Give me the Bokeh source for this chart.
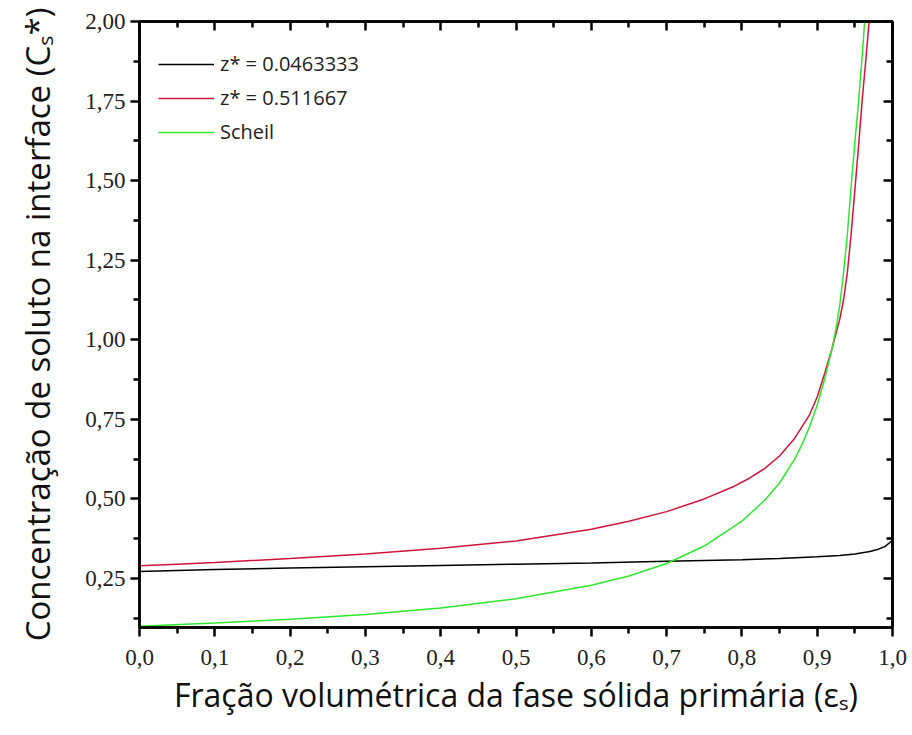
from bokeh.plotting import figure
from bokeh.models import (LinearAxis, FixedTicker, CustomJSTickFormatter, Range1d,
                          Legend, LegendItem)
from bokeh.embed import file_html
from bokeh.resources import INLINE

# ---- data ----
x_black = [0.0, 0.05, 0.1, 0.2, 0.3, 0.4, 0.5, 0.6, 0.7, 0.8, 0.85, 0.9, 0.93, 0.95, 0.97, 0.98, 0.99, 1.0]
y_black = [0.272, 0.275, 0.278, 0.283, 0.287, 0.291, 0.295, 0.299, 0.304, 0.309, 0.313, 0.318, 0.322, 0.327, 0.335, 0.341, 0.350, 0.370]

x_red = [0.0, 0.0, 0.05, 0.1, 0.2, 0.3, 0.4, 0.5, 0.6, 0.65, 0.7, 0.75, 0.79, 0.81, 0.83, 0.85, 0.87, 0.89, 0.9,
         0.91, 0.92, 0.925, 0.93, 0.935, 0.94, 0.945, 0.95, 0.955, 0.96, 0.965, 0.97]
y_red = [0.10, 0.29, 0.295, 0.30, 0.313, 0.327, 0.345, 0.368, 0.405, 0.43, 0.46, 0.50, 0.54, 0.565, 0.595, 0.635, 0.69, 0.765, 0.82,
         0.895, 0.975, 1.02, 1.065, 1.125, 1.21, 1.33, 1.47, 1.61, 1.76, 1.89, 2.03]

x_green = [0.0, 0.1, 0.2, 0.3, 0.4, 0.5, 0.6, 0.65, 0.7, 0.75, 0.8, 0.83, 0.85, 0.87, 0.88, 0.89, 0.9, 0.91,
           0.92, 0.925, 0.93, 0.935, 0.94, 0.945, 0.95, 0.955, 0.96, 0.963, 0.965]
y_green = [0.100, 0.110, 0.122, 0.137, 0.157, 0.186, 0.229, 0.258, 0.297, 0.352, 0.43, 0.495, 0.55, 0.625, 0.672, 0.728, 0.795, 0.877,
           0.975, 1.035, 1.11, 1.21, 1.33, 1.48, 1.62, 1.75, 1.90, 2.0, 2.07]

labels = ["z* = 0.0463333", "z* = 0.511667", "Scheil"]
colors = ["#000000", "#d0143a", "#2ee62e"]

x_ticks = [0.0, 0.1, 0.2, 0.3, 0.4, 0.5, 0.6, 0.7, 0.8, 0.9, 1.0]
x_minor = [0.05, 0.15, 0.25, 0.35, 0.45, 0.55, 0.65, 0.75, 0.85, 0.95]
y_ticks = [0.25, 0.5, 0.75, 1.0, 1.25, 1.5, 1.75, 2.0]
y_minor = [0.125, 0.375, 0.625, 0.875, 1.125, 1.375, 1.625, 1.875]

x_title = "Fração volumétrica da fase sólida primária (εₛ)"
y_title = "Concentração de soluto na interface (Cₛ*)"

TICK_FONT = "Liberation Serif"
TITLE_FONT = "Open Sans"

p = figure(width=912, height=735, output_backend="svg", toolbar_location=None,
           x_range=Range1d(0.0, 1.0), y_range=Range1d(0.096, 2.0),
           min_border_left=139, min_border_right=20, min_border_top=21, min_border_bottom=108)
p.grid.visible = False
p.background_fill_color = "white"
p.border_fill_color = "white"
p.outline_line_color = "black"
p.outline_line_width = 2.5

r1 = p.line(x_black, y_black, line_color=colors[0], line_width=1.5)
r2 = p.line(x_red, y_red, line_color=colors[1], line_width=1.5)
r3 = p.line(x_green, y_green, line_color=colors[2], line_width=1.5)

xa = p.xaxis[0]
xa.ticker = FixedTicker(ticks=x_ticks, minor_ticks=x_minor)
xa.formatter = CustomJSTickFormatter(code="return tick.toFixed(1).replace('.', ',');")
ya = p.yaxis[0]
ya.ticker = FixedTicker(ticks=y_ticks, minor_ticks=y_minor)
ya.formatter = CustomJSTickFormatter(code="return tick.toFixed(2).replace('.', ',');")

for ax in (xa, ya):
    ax.axis_line_width = 2.5
    ax.major_tick_line_width = 2.5
    ax.minor_tick_line_width = 2.5
    ax.major_tick_out = 9
    ax.major_tick_in = 0
    ax.minor_tick_out = 6
    ax.minor_tick_in = 0
    ax.major_label_text_font = TICK_FONT
    ax.major_label_text_font_size = "23px"
    ax.major_label_text_color = "#222222"
    ax.axis_label_text_font = TITLE_FONT
    ax.axis_label_text_font_style = "normal"
    ax.axis_label_text_color = "#111111"

xa.axis_label = x_title
xa.axis_label_text_font_size = "32px"
xa.major_label_standoff = 13
xa.axis_label_standoff = 5
ya.axis_label = y_title
ya.axis_label_text_font_size = "33px"
ya.major_label_standoff = 5
ya.axis_label_standoff = 22

# mirrored axes with inward ticks, no labels
top = LinearAxis(ticker=FixedTicker(ticks=x_ticks, minor_ticks=x_minor),
                 formatter=CustomJSTickFormatter(code="return '';"))
right = LinearAxis(ticker=FixedTicker(ticks=y_ticks, minor_ticks=y_minor),
                   formatter=CustomJSTickFormatter(code="return '';"))
for ax in (top, right):
    ax.axis_line_width = 2.5
    ax.major_tick_line_width = 2.5
    ax.minor_tick_line_width = 2.5
    ax.major_tick_in = 9
    ax.major_tick_out = 0
    ax.minor_tick_in = 6
    ax.minor_tick_out = 0
    ax.major_label_standoff = 0
p.add_layout(top, "above")
p.add_layout(right, "right")

legend = Legend(items=[LegendItem(label=labels[0], renderers=[r1]),
                       LegendItem(label=labels[1], renderers=[r2]),
                       LegendItem(label=labels[2], renderers=[r3])],
                location=(19, 482))
legend.border_line_color = None
legend.background_fill_alpha = 0
legend.label_text_font = TITLE_FONT
legend.label_text_font_size = "20px"
legend.label_text_color = "#222222"
legend.glyph_width = 56
legend.glyph_height = 26
legend.label_height = 26
legend.spacing = 7
legend.margin = 0
legend.padding = 0
legend.label_standoff = 6
p.add_layout(legend)

open("out.html", "w").write(file_html(p, INLINE))
